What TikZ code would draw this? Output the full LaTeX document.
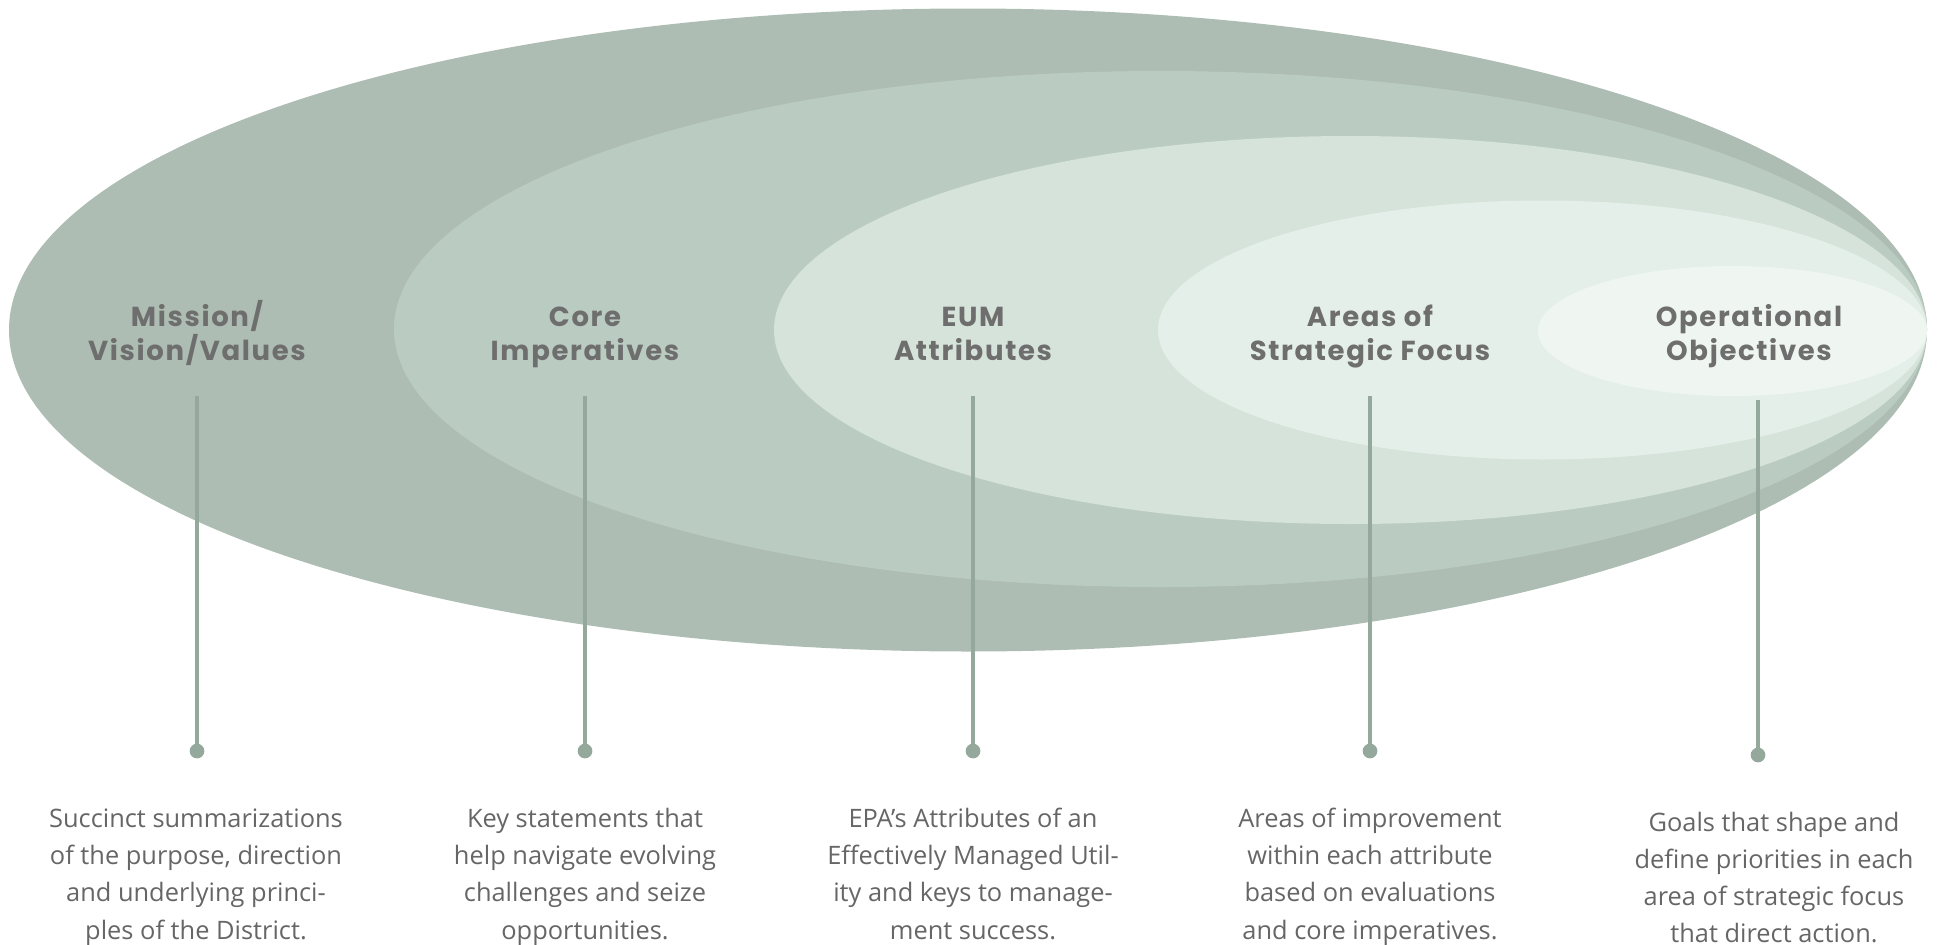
\documentclass[tikz,border=0pt]{standalone}
\usepackage{fontspec}
\newfontfamily\titlefont{Poppins}[LetterSpace=6]
\newfontfamily\descfont{Open Sans}
\definecolor{e1}{HTML}{ADBDB3}
\definecolor{e2}{HTML}{BACBC1}
\definecolor{e3}{HTML}{D5E3DA}
\definecolor{e4}{HTML}{E5EFE9}
\definecolor{e5}{HTML}{EFF6F2}
\definecolor{stemcol}{HTML}{94A89B}
\definecolor{titlegray}{HTML}{6D6E6D}
\definecolor{descgray}{HTML}{666666}
\begin{document}
\begin{tikzpicture}[x=1pt,y=-1pt,
  ttl/.style={font=\titlefont\bfseries\fontsize{27.5}{34}\selectfont, text=titlegray, align=center, inner sep=0pt, anchor=base},
  dsc/.style={font=\descfont\fontsize{25.4}{37.1}\selectfont, text=descgray, align=center, inner sep=0pt, anchor=base},
  stem/.style={draw=stemcol, line width=4.7pt},
  knob/.style={circle, fill=stemcol, minimum size=14.7pt, inner sep=0pt}]
\useasboundingbox (0,0) rectangle (1939,945);
\fill[e1] (968,330) ellipse [x radius=959pt, y radius=321.5pt];
\fill[e2] (1160.5,329) ellipse [x radius=766.5pt, y radius=258pt];
\fill[e3] (1350.5,330) ellipse [x radius=576.5pt, y radius=194pt];
\fill[e4] (1542.5,330) ellipse [x radius=384.5pt, y radius=129.5pt];
\fill[e5] (1732.5,331) ellipse [x radius=194.5pt, y radius=65pt];

\node[ttl] (t1) at (197,360) {Mission/\\Vision/Values};
\node[ttl] (t2) at (585,360) {Core\\Imperatives};
\node[ttl] (t3) at (973,360) {EUM\\Attributes};
\node[ttl] (t4) at (1370,360) {Areas of\\Strategic Focus};
\node[ttl] (t5) at (1749,360) {Operational\\Objectives};

\coordinate (s1) at (197,396);
\coordinate (s2) at (585,396);
\coordinate (s3) at (973,396);
\coordinate (s4) at (1370,396);
\coordinate (s5) at (1758,400);
\node[knob] (k1) at (197,751) {};
\node[knob] (k2) at (585,751) {};
\node[knob] (k3) at (973,751) {};
\node[knob] (k4) at (1370,751) {};
\node[knob] (k5) at (1758,755) {};
\foreach \i in {1,...,5} \draw[stem] (s\i) -- (k\i.center);

\node[dsc] (d1) at (196,939) {Succinct summarizations\\of the purpose, direction\\and underlying princi-\\ples of the District.};
\node[dsc] (d2) at (585,939) {Key statements that\\help navigate evolving\\challenges and seize\\opportunities.};
\node[dsc] (d3) at (973,939) {EPA’s Attributes of an\\Effectively Managed Util-\\ity and keys to manage-\\ment success.};
\node[dsc] (d4) at (1370,939) {Areas of improvement\\within each attribute\\based on evaluations\\and core imperatives.};
\node[dsc] (d5) at (1774,942.5) {Goals that shape and\\define priorities in each\\area of strategic focus\\that direct action.};
\end{tikzpicture}
\end{document}
